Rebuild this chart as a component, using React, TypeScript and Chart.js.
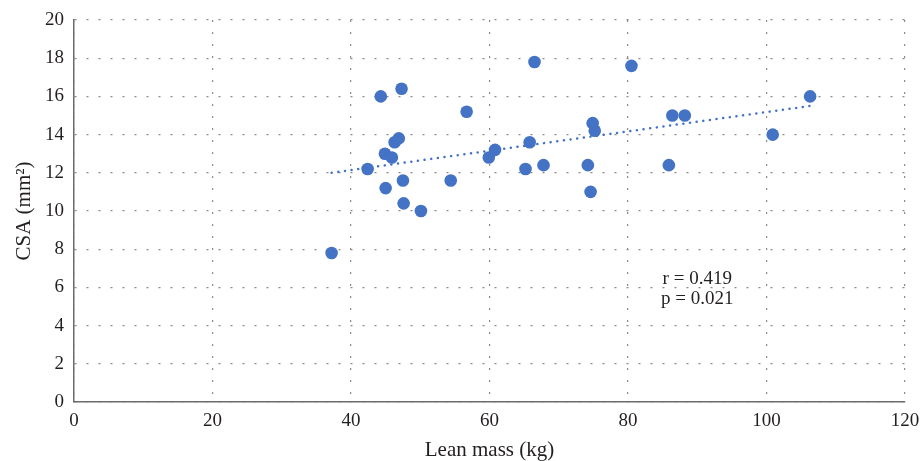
import React, { useEffect, useRef } from "react";
import { Chart, registerables } from "chart.js";

Chart.register(...registerables);

// Lean mass (kg) for each subject
const leanMass = [
  37.2, 42.4, 44.3, 44.9, 45.0, 45.9, 46.3, 46.9, 47.3, 47.5, 47.6, 50.1, 54.4,
  56.7, 59.9, 60.8, 65.2, 65.8, 66.5, 67.8, 74.2, 74.6, 74.9, 75.2, 80.5, 85.9,
  86.4, 88.2, 100.9, 106.3,
];
// CSA (mm²) for each subject
const csa = [
  7.8, 12.2, 16.0, 13.0, 11.2, 12.8, 13.6, 13.8, 16.4, 11.6, 10.4, 10.0, 11.6,
  15.2, 12.8, 13.2, 12.2, 13.6, 17.8, 12.4, 12.4, 11.0, 14.6, 14.2, 17.6, 12.4,
  15.0, 15.0, 14.0, 16.0,
];
// Linear trend line end points
const trendX = [37.2, 106.3];
const trendY = [12.0, 15.5];

const statLines = ["r = 0.419", "p = 0.021"];
const xTitle = "Lean mass (kg)";
const yTitle = "CSA (mm²)";

const FONT = "'Liberation Serif', 'DejaVu Serif', serif";
const BLUE = "#4472C4";
const TEXT = "#231f20";

const statsPlugin = {
  id: "statsText",
  afterDatasetsDraw(chart: any) {
    const { ctx, scales } = chart;
    const cx = scales.x.getPixelForValue(90.0);
    ctx.save();
    ctx.font = `19px ${FONT}`;
    ctx.fillStyle = TEXT;
    ctx.textAlign = "center";
    ctx.textBaseline = "middle";
    statLines.forEach((t, i) => {
      const cy = scales.y.getPixelForValue(6.42 - i * 1.03);
      ctx.fillText(t, cx, cy);
    });
    ctx.restore();
  },
};

export default function App() {
  const ref = useRef<HTMLCanvasElement | null>(null);

  useEffect(() => {
    document.body.style.margin = "0";
    const canvas = ref.current!;
    const chart = new Chart(canvas, {
      type: "scatter",
      data: {
        datasets: [
          {
            type: "line",
            data: trendX.map((x, i) => ({ x, y: trendY[i] })),
            borderColor: BLUE,
            borderWidth: 2.5,
            borderDash: [0.1, 6.6],
            borderCapStyle: "round",
            pointRadius: 0,
            fill: false,
            showLine: true,
          } as any,
          {
            data: leanMass.map((x, i) => ({ x, y: csa[i] })),
            backgroundColor: BLUE,
            borderColor: BLUE,
            borderWidth: 0,
            pointRadius: 6.3,
          },
        ],
      },
      options: {
        responsive: false,
        animation: false,
        layout: { padding: { top: 20, right: 16, left: 0, bottom: 0 } },
        plugins: {
          legend: { display: false },
          tooltip: { enabled: false },
        },
        scales: {
          x: {
            type: "linear",
            min: 0,
            max: 120,
            ticks: {
              stepSize: 20,
              color: TEXT,
              font: { family: FONT, size: 19 },
              padding: 8,
            },
            grid: {
              color: "#8a8a8a",
              lineWidth: 1.2,
              drawTicks: false,
            },
            border: { display: true, color: "#6b6b6b", width: 1.5, dash: [2, 10] },
            title: {
              display: true,
              text: xTitle,
              color: TEXT,
              font: { family: FONT, size: 21 },
              padding: { top: 0, bottom: -2 },
            },
            afterFit(scale: any) {
              scale.height = 59;
              scale.paddingLeft = 0;
              scale.paddingRight = 0;
            },
          },
          y: {
            type: "linear",
            min: 0,
            max: 20,
            ticks: {
              stepSize: 2,
              color: TEXT,
              font: { family: FONT, size: 19 },
              padding: 10,
            },
            grid: {
              color: "#8a8a8a",
              lineWidth: 1.2,
              drawTicks: false,
            },
            border: { display: true, color: "#6b6b6b", width: 1.5, dash: [2, 10] },
            title: {
              display: true,
              text: yTitle,
              color: TEXT,
              font: { family: FONT, size: 21 },
              padding: { top: 12, bottom: 0 },
            },
            afterFit(scale: any) {
              scale.width = 74;
              scale.paddingTop = 0;
              scale.paddingBottom = 0;
            },
          },
        },
      },
      plugins: [statsPlugin],
    });
    return () => chart.destroy();
  }, []);

  return (
    <div style={{ width: 921, height: 461 }}>
      <canvas ref={ref} width={921} height={461} style={{ display: "block" }} />
    </div>
  );
}
